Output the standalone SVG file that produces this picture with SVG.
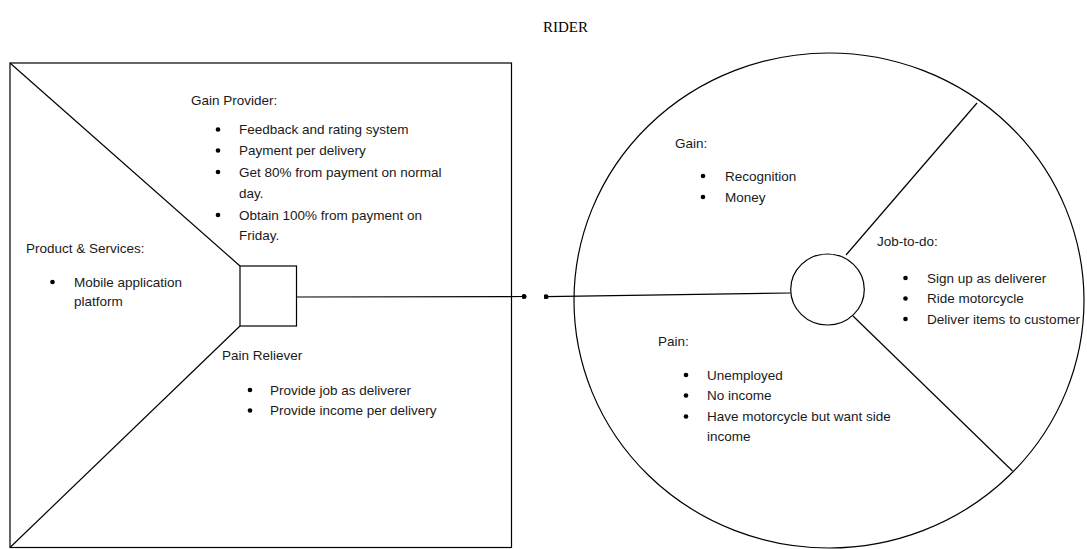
<svg xmlns="http://www.w3.org/2000/svg" width="1087" height="549" viewBox="0 0 1087 549">
<style>
.ln{stroke:#000;stroke-width:1.2;fill:none}
.t{font-family:"Liberation Sans",Arial,sans-serif;font-size:13.5px;fill:#1a1a1a}
.ti{font-family:"Liberation Serif","Times New Roman",serif;font-size:15px;fill:#000}
.b{fill:#000}
</style>
<defs>
<marker id="dot" viewBox="0 0 6 6" refX="3" refY="3" markerWidth="5" markerHeight="5" markerUnits="userSpaceOnUse"><circle cx="3" cy="3" r="3" fill="#000"/></marker>
</defs>
<rect width="1087" height="549" fill="#fff"/>
<text class="ti" x="543" y="32">RIDER</text>

<g id="value-map">
<rect class="ln" x="10" y="63" width="501.5" height="484.5"/>
<line class="ln" x1="10" y1="63" x2="240" y2="266"/>
<line class="ln" x1="240" y1="326" x2="10" y2="547.5"/>
</g>
<g id="product-box">
<rect class="ln" x="240" y="266" width="56.5" height="60"/>
</g>
<g id="gain-provider">
<text class="t" x="191" y="105">Gain Provider:</text>
<circle class="b" cx="218" cy="129.5" r="2.3"/>
<circle class="b" cx="218" cy="150.5" r="2.3"/>
<circle class="b" cx="218" cy="172" r="2.3"/>
<circle class="b" cx="218" cy="215" r="2.3"/>
<text class="t" x="239" y="134">Feedback and rating system</text>
<text class="t" x="239" y="155">Payment per delivery</text>
<text class="t" x="239" y="176.5">Get 80% from payment on normal</text>
<text class="t" x="239" y="197.5">day.</text>
<text class="t" x="239" y="219.5">Obtain 100% from payment on</text>
<text class="t" x="239" y="240">Friday.</text>
</g>
<g id="product-services">
<text class="t" x="26" y="253">Product &amp; Services:</text>
<circle class="b" cx="52.5" cy="282" r="2.3"/>
<text class="t" x="74" y="286.5">Mobile application</text>
<text class="t" x="74" y="306">platform</text>
</g>
<g id="pain-reliever">
<text class="t" x="222" y="360">Pain Reliever</text>
<circle class="b" cx="250" cy="390" r="2.3"/>
<circle class="b" cx="250" cy="410.5" r="2.3"/>
<text class="t" x="270" y="394.5">Provide job as deliverer</text>
<text class="t" x="270" y="415">Provide income per delivery</text>
</g>

<g id="customer-profile">
<ellipse class="ln" cx="829" cy="300.5" rx="255" ry="247.5"/>
<line class="ln" x1="846" y1="255" x2="977" y2="103"/>
<line class="ln" x1="853" y1="316" x2="1012.5" y2="471"/>
</g>
<g id="center-circle">
<ellipse class="ln" cx="827.5" cy="289.5" rx="36.8" ry="35.5"/>
</g>
<g id="gain">
<text class="t" x="675" y="148">Gain:</text>
<circle class="b" cx="703" cy="176" r="2.3"/>
<circle class="b" cx="703" cy="197" r="2.3"/>
<text class="t" x="725" y="181">Recognition</text>
<text class="t" x="725" y="202">Money</text>
</g>
<g id="job-to-do">
<text class="t" x="877" y="246">Job-to-do:</text>
<circle class="b" cx="905.5" cy="278" r="2.3"/>
<circle class="b" cx="905.5" cy="298.5" r="2.3"/>
<circle class="b" cx="905.5" cy="319" r="2.3"/>
<text class="t" x="927" y="282.5">Sign up as deliverer</text>
<text class="t" x="927" y="303">Ride motorcycle</text>
<text class="t" x="927" y="323.5" textLength="153" lengthAdjust="spacingAndGlyphs">Deliver items to customer</text>
</g>
<g id="pain">
<text class="t" x="658" y="346">Pain:</text>
<circle class="b" cx="686" cy="375" r="2.3"/>
<circle class="b" cx="686" cy="395.5" r="2.3"/>
<circle class="b" cx="686" cy="416.5" r="2.3"/>
<text class="t" x="707" y="379.5">Unemployed</text>
<text class="t" x="707" y="400">No income</text>
<text class="t" x="707" y="421">Have motorcycle but want side</text>
<text class="t" x="707" y="440.5">income</text>
</g>

<g id="connectors">
<line class="ln" x1="296.5" y1="297" x2="524" y2="296.5" marker-end="url(#dot)"/>
<line class="ln" x1="790.5" y1="293" x2="546" y2="296.7" marker-end="url(#dot)"/>
</g>
</svg>
